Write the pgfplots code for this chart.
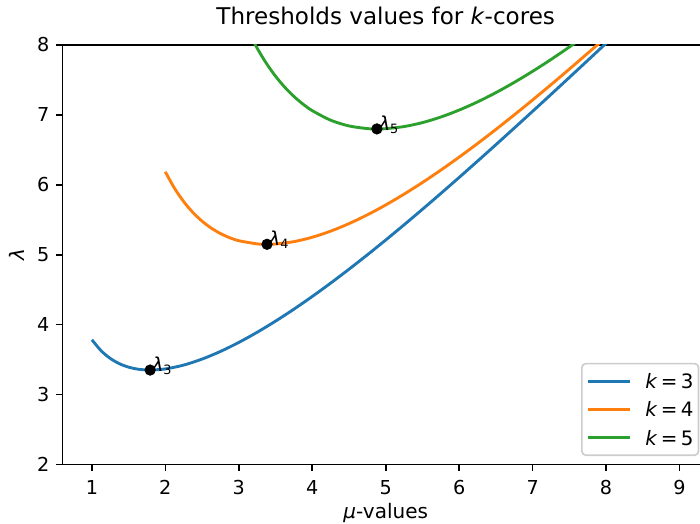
\documentclass[border=0pt]{standalone}
\usepackage{fontspec}
\setmainfont{DejaVu Sans}
\usepackage{pgfplots}
\pgfplotsset{compat=1.18}

\definecolor{c0}{HTML}{1F77B4}
\definecolor{c1}{HTML}{FF7F0E}
\definecolor{c2}{HTML}{2CA02C}

% lambda_k(mu) = mu / P(Poisson(mu) >= k-1)
\pgfplotstableread{
mu lam
1 3.7844
1.125 3.6277
1.25 3.5175
1.375 3.4417
1.5 3.3923
1.625 3.3637
1.75 3.3517
1.793 3.3509
2 3.3670
2.25 3.4223
2.5 3.5078
2.75 3.6172
3 3.7460
3.25 3.8913
3.5 4.0504
3.75 4.2216
4 4.4033
4.25 4.5940
4.5 4.7928
4.75 4.9987
5 5.2107
5.25 5.4281
5.5 5.6501
5.75 5.8763
6 6.1059
6.25 6.3387
6.5 6.5741
6.75 6.8118
7 7.0514
7.25 7.2927
7.5 7.5354
7.75 7.7793
8 8.0242
8.25 8.2700
8.5 8.5164
}\kthree

\pgfplotstableread{
mu lam
2 6.1857
2.125 5.9505
2.25 5.7595
2.375 5.6048
2.5 5.4802
2.625 5.3810
2.75 5.3033
2.875 5.2441
3 5.2010
3.25 5.1552
3.384 5.1494
3.5 5.1535
3.75 5.1872
4 5.2501
4.25 5.3373
4.5 5.4451
4.75 5.5709
5 5.7120
5.25 5.8667
5.5 6.0332
5.75 6.2102
6 6.3964
6.25 6.5906
6.5 6.7922
6.75 7.0003
7 7.2138
7.25 7.4322
7.5 7.6550
7.75 7.8818
8 8.1114
8.25 8.3443
}\kfour

\pgfplotstableread{
mu lam
3 8.5041
3.125 8.2075
3.25 7.9541
3.375 7.7378
3.5 7.5533
3.625 7.3967
3.75 7.2643
3.875 7.1531
4 7.0606
4.25 6.9242
4.5 6.8420
4.75 6.8041
4.88 6.7993
5 6.8030
5.25 6.8331
5.5 6.8896
5.75 6.9693
6 7.0690
6.25 7.1857
6.5 7.3183
6.75 7.4650
7 7.6234
7.25 7.7924
7.5 7.9714
7.75 8.1592
}\kfive

% minima of each curve
\pgfplotstableread{
mu lam lab
1.793 3.3509 3
3.384 5.1494 4
4.88 6.7993 5
}\minima

\begin{document}
\begin{tikzpicture}
\useasboundingbox (-39.06pt,-36.56pt) rectangle (398.4pt,290.3pt);
\clip (-39.06pt,-36.56pt) rectangle (398.4pt,290.3pt);
\begin{axis}[
  scale only axis,
  width=404pt, height=262.2pt,
  xmin=0.6, xmax=9.4, ymin=2, ymax=8,
  xtick={1,2,...,9}, ytick={2,3,...,8},
  tick pos=left, tick align=outside,
  major tick length=4.2pt,
  every tick/.style={black, line width=1pt},
  axis line style={line width=1pt},
  /pgf/number format/assume math mode=true,
  ticklabel style={font=\fontsize{12}{14}\selectfont},
  xticklabel style={inner sep=0pt, anchor=north, yshift=-5.5pt},
  yticklabel style={inner sep=0pt, anchor=east, xshift=-3.8pt},
  title={Thresholds values for \textit{k}-cores},
  title style={font=\fontsize{14.4}{17}\selectfont, at={(axis description cs:0.5,1)}, anchor=base, yshift=6.5pt, inner sep=0pt},
  xlabel={\textit{μ}-values},
  xlabel style={font=\fontsize{12.5}{15}\selectfont, at={(axis description cs:0.5,0)}, anchor=north, yshift=-24pt, inner sep=0pt},
  ylabel={\textit{λ}},
  ylabel style={font=\fontsize{12.5}{15}\selectfont, at={(axis description cs:0,0.5)}, anchor=center, yshift=28.4pt, inner sep=0pt},
  legend cell align=left,
  legend style={at={(rel axis cs:1,0)}, anchor=south east, xshift=-6pt, yshift=5.3pt,
    draw=black!20, line width=1pt, rounded corners=2.5pt, fill=white, fill opacity=0.8, text opacity=1,
    font=\fontsize{12.4}{15}\selectfont, row sep=0pt, inner xsep=3.2pt, inner ysep=2.1pt,
    nodes={inner xsep=0pt, inner ysep=4.2pt, text height=9.3pt, text depth=0pt},
    /tikz/every odd column/.style={column sep=8.9pt}},
  legend image code/.code={\draw[#1, line width=1.8pt] (0pt,0pt) -- (25.8pt,0pt);},
]
\addplot[c0, line width=1.8pt, smooth, tension=0.5] table[x=mu, y=lam] {\kthree};
\addlegendentry{\textit{k}\,=\,3}
\addplot[c1, line width=1.8pt, smooth, tension=0.5] table[x=mu, y=lam] {\kfour};
\addlegendentry{\textit{k}\,=\,4}
\addplot[c2, line width=1.8pt, smooth, tension=0.5] table[x=mu, y=lam] {\kfive};
\addlegendentry{\textit{k}\,=\,5}
\addplot[only marks, mark=*, mark size=3.3pt, black,
  nodes near coords={\textit{λ}\textsubscript{\pgfplotspointmeta}},
  point meta=explicit symbolic,
  every node near coord/.style={anchor=base west, inner sep=0pt, xshift=1pt, yshift=-1pt, font=\fontsize{12}{14}\selectfont, black}]
  table[x=mu, y=lam, meta=lab] {\minima};
\end{axis}
\end{tikzpicture}
\end{document}
